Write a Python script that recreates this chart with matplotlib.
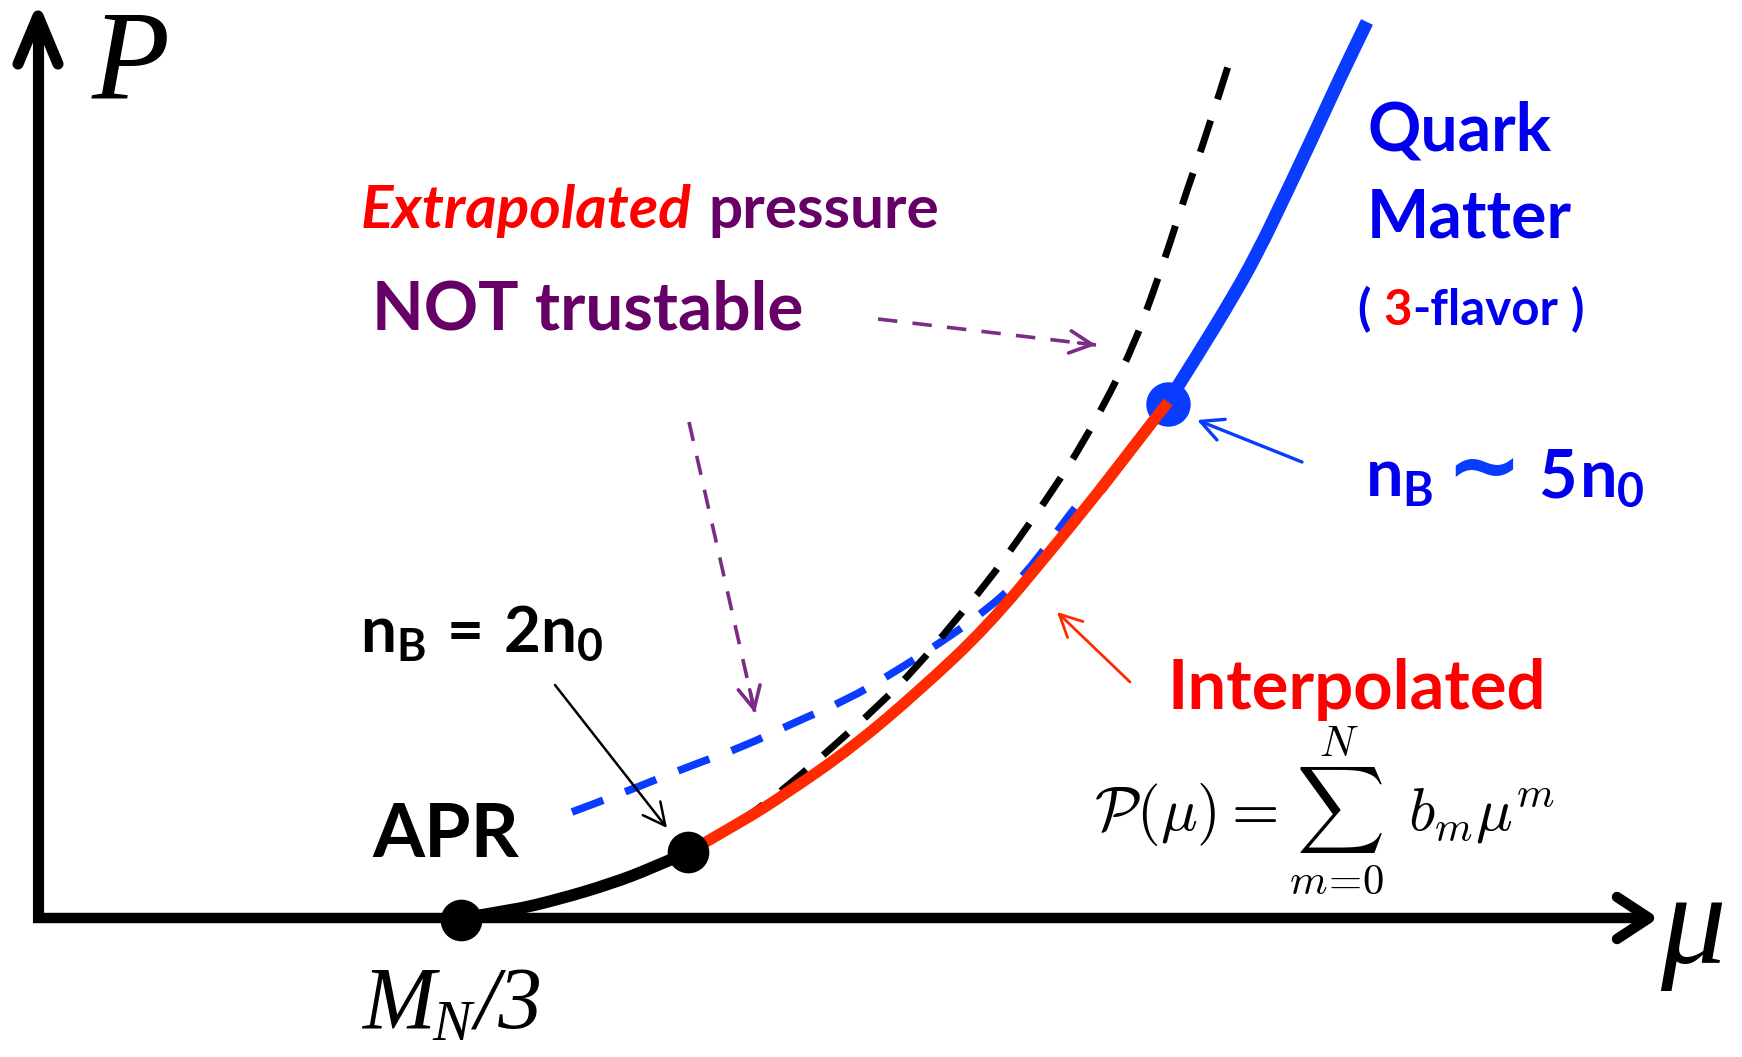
import matplotlib
matplotlib.use("Agg")
import matplotlib.pyplot as plt
from matplotlib.path import Path
from matplotlib.patches import PathPatch

# canvas in pixel units of the 1742x1057 picture (y grows downward)
W, H = 1742, 1057

# ---- curve data (mu, P) ----
apr_mu = [461, 510, 560, 610, 650, 688]
apr_p = [918, 911, 899, 884, 869, 852]

interp_mu = [688, 740, 787, 853, 920, 987, 1053, 1100, 1140, 1168]
interp_p = [852, 823, 793, 747, 690, 627, 548, 490, 438, 402]

quark_mu = [1168, 1200, 1233, 1258, 1283, 1310, 1333, 1350, 1367]
quark_p = [402, 351, 297, 252, 200, 143, 93, 57, 22]

# extrapolated hadronic pressure (black dashed)
hadr_ext_mu = [688, 737, 760, 803, 837, 877, 917, 953, 987, 1020, 1053,
               1083, 1110, 1133, 1153, 1170, 1187, 1207, 1230]
hadr_ext_p = [852, 822, 808, 773, 743, 707, 667, 623, 583, 537, 490,
              443, 393, 347, 293, 243, 190, 133, 60]

# extrapolated quark pressure (blue dashed)
quark_ext_mu = [572, 623, 687, 743, 793, 847, 893, 940, 987, 1027, 1063, 1075]
quark_ext_p = [812, 793, 767, 747, 723, 700, 673, 643, 610, 573, 523, 508]

# special points: M_N/3, n_B = 2 n_0, n_B ~ 5 n_0
pt_mu = [461, 688, 1168]
pt_p = [920, 852, 404]

RED = "#ff2a00"
BLUE = "#0a3cff"
TXT_BLUE = "#0000ee"
PURPLE = "#660066"
ARROW_PURPLE = "#7b2d86"

plt.rcParams["mathtext.fontset"] = "custom"
plt.rcParams["mathtext.rm"] = "Lato:bold"
plt.rcParams["mathtext.it"] = "Lato:bold"
plt.rcParams["mathtext.bf"] = "Lato:bold"
plt.rcParams["mathtext.fallback"] = "stixsans"
plt.rcParams["lines.scale_dashes"] = False

fig = plt.figure(figsize=(W / 100, H / 100), dpi=100)
ax = fig.add_axes([0, 0, 1, 1])
ax.set_xlim(0, W)
ax.set_ylim(H, 0)
ax.axis("off")


def smooth_curve(xs, ys, **kw):
    """Quadratic B-spline style path through the read-off points."""
    verts = [(xs[0], ys[0])]
    codes = [Path.MOVETO]
    n = len(xs)
    for i in range(1, n - 1):
        if i == n - 2:
            end = (xs[-1], ys[-1])
        else:
            end = ((xs[i] + xs[i + 1]) / 2, (ys[i] + ys[i + 1]) / 2)
        verts += [(xs[i], ys[i]), end]
        codes += [Path.CURVE3, Path.CURVE3]
    ax.add_patch(PathPatch(Path(verts, codes), fill=False, **kw))


# ---- axes with open arrow heads ----
ax.plot([38, 38], [922, 18], color="k", lw=8, solid_capstyle="butt")
ax.plot([18, 38, 58], [64, 16, 64], color="k", lw=8,
        solid_capstyle="round", solid_joinstyle="round")
ax.plot([33, 1646], [918, 918], color="k", lw=7.5, solid_capstyle="butt")
ax.plot([1617, 1649, 1617], [897, 918, 939], color="k", lw=7.5,
        solid_capstyle="round", solid_joinstyle="round")

ax.text(92, 98, "P", family="Liberation Serif", style="italic",
        fontsize=92, va="baseline", ha="left")
ax.text(1660, 963, "μ", family="Liberation Serif", style="italic",
        fontsize=94, va="baseline", ha="left")

# ---- curves ----
smooth_curve(quark_ext_mu, quark_ext_p, color=BLUE, lw=5.5,
             linestyle=(0, (24, 17)), capstyle="butt", zorder=2)
smooth_curve(hadr_ext_mu, hadr_ext_p, color="k", lw=5,
             linestyle=(0, (24, 16)), capstyle="butt", zorder=2)
smooth_curve(apr_mu, apr_p, color="k", lw=8.5, capstyle="round", zorder=3)
smooth_curve(interp_mu, interp_p, color=RED, lw=8, capstyle="butt", zorder=3)
smooth_curve(quark_mu, quark_p, color=BLUE, lw=9.5, capstyle="butt", zorder=3)
ax.plot(pt_mu[:2], pt_p[:2], "o", color="k", ms=29, zorder=5)
ax.plot(pt_mu[2:], pt_p[2:], "o", color=BLUE, ms=31, zorder=4)
smooth_curve(interp_mu[-3:], interp_p[-3:], color=RED, lw=8,
             capstyle="butt", zorder=5)


def arrow(x0, y0, x1, y1, color, lw, dashed=False):
    if dashed:
        # dashed shaft, solid head
        ax.plot([x0, x1], [y0, y1], color=color, lw=lw, dashes=(14, 11))
        x0 = x1 - (x1 - x0) * 0.08
        y0 = y1 - (y1 - y0) * 0.08
    ax.annotate("", xy=(x1, y1), xytext=(x0, y0),
                arrowprops=dict(arrowstyle="->,head_length=0.8,head_width=0.4",
                                color=color, lw=lw, mutation_scale=20,
                                shrinkA=0, shrinkB=0))


arrow(878, 319, 1096, 345, ARROW_PURPLE, 2.6, dashed=True)
arrow(689, 422, 755, 713, ARROW_PURPLE, 2.6, dashed=True)
arrow(555, 685, 667, 828, "k", 1.8)
arrow(1130, 682, 1057, 612, RED, 2.0)
arrow(1302, 462, 1197, 420, BLUE, 2.4)

# ---- labels ----
fig.canvas.draw()
rend = fig.canvas.get_renderer()
inv = ax.transData.inverted()


def pieces(x, y, parts, **base):
    """Write text pieces one after another on a common baseline."""
    for p in parts:
        p = dict(p)
        s = p.pop("s")
        gap = p.pop("gap", 0)
        dy = p.pop("dy", 0)
        kw = dict(family="Lato", weight="bold", va="baseline", ha="left")
        kw.update(base)
        kw.update(p)
        t = ax.text(x + gap, y + dy, s, **kw)
        bb = t.get_window_extent(renderer=rend)
        x = inv.transform((bb.x1, bb.y0))[0]


serif_it = dict(family="Liberation Serif", weight="normal", style="italic",
                color="k")
pieces(362, 1028, [dict(s="M", fontsize=63),
                   dict(s="N", fontsize=42, dy=12, gap=-2),
                   dict(s="/3", fontsize=63, gap=2)], **serif_it)

pieces(361, 228, [dict(s="Extrapolated", color="#ff0000", style="italic"),
                  dict(s="pressure", color=PURPLE, gap=17)], fontsize=43.5)
ax.text(372, 330, "NOT trustable", color=PURPLE, family="Lato",
        weight="bold", fontsize=48.5, va="baseline", ha="left")

ax.text(372, 857, "APR", color="k", family="Lato", weight="bold",
        fontsize=54, va="baseline", ha="left")
ax.text(360, 652, r"$n_B\,=\,2n_0$", color="k", fontsize=46,
        va="baseline", ha="left")

ax.text(1367, 150, "Quark", color=TXT_BLUE, family="Lato", weight="bold",
        fontsize=47.5, va="baseline", ha="left")
ax.text(1367, 238, "Matter", color=TXT_BLUE, family="Lato", weight="bold",
        fontsize=47.5, va="baseline", ha="left")
pieces(1357, 325, [dict(s="(", color=TXT_BLUE),
                   dict(s="3", color="#ff0000", gap=13),
                   dict(s="-flavor", color=TXT_BLUE),
                   dict(s=")", color=TXT_BLUE, gap=13)], fontsize=35.5)
pieces(1365, 497, [dict(s=r"$n_B$", color=TXT_BLUE),
                   dict(s="~", color=BLUE, gap=12, fontsize=66,
                        family="DejaVu Sans"),
                   dict(s="5", color=TXT_BLUE, gap=16),
                   dict(s=r"$n_0$", color=TXT_BLUE, gap=2)], fontsize=48)

ax.text(1167, 709, "Interpolated", color="#ff0000", family="Lato",
        weight="bold", fontsize=49.5, va="baseline", ha="left")
ax.text(1094, 811, r"$\mathcal{P}(\mu) = \sum_{m\!=\!0}^{N}\;\, b_m \mu^m$",
        math_fontfamily="cm", fontsize=44, va="center", ha="left")

fig.savefig("out.png", dpi=100)
